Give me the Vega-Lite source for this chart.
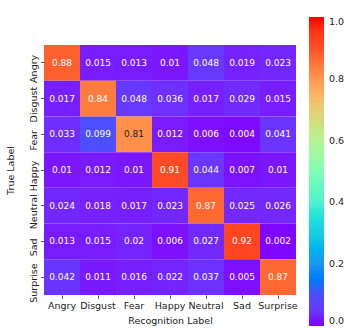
{
  "$schema": "https://vega.github.io/schema/vega-lite/v6.json",
  "autosize": "none",
  "width": 252,
  "height": 250,
  "padding": {"left": 44, "top": 45, "right": 49, "bottom": 34},
  "background": "white",
  "config": {
    "view": {"stroke": null},
    "font": "DejaVu Sans",
    "axis": {
      "domain": false,
      "grid": false,
      "ticks": true,
      "tickSize": 3.5,
      "tickColor": "#333333",
      "tickWidth": 0.8,
      "labelFont": "DejaVu Sans",
      "labelFontSize": 9.5,
      "labelColor": "#222222",
      "titleFont": "DejaVu Sans",
      "titleFontSize": 9.5,
      "titleFontWeight": "normal",
      "titleColor": "#222222",
      "labelPadding": 2
    }
  },
  "data": {
    "values": [
      {"t": "Angry", "p": "Angry", "v": 0.88}, {"t": "Angry", "p": "Disgust", "v": 0.015}, {"t": "Angry", "p": "Fear", "v": 0.013}, {"t": "Angry", "p": "Happy", "v": 0.01}, {"t": "Angry", "p": "Neutral", "v": 0.048}, {"t": "Angry", "p": "Sad", "v": 0.019}, {"t": "Angry", "p": "Surprise", "v": 0.023},
      {"t": "Disgust", "p": "Angry", "v": 0.017}, {"t": "Disgust", "p": "Disgust", "v": 0.84}, {"t": "Disgust", "p": "Fear", "v": 0.048}, {"t": "Disgust", "p": "Happy", "v": 0.036}, {"t": "Disgust", "p": "Neutral", "v": 0.017}, {"t": "Disgust", "p": "Sad", "v": 0.029}, {"t": "Disgust", "p": "Surprise", "v": 0.015},
      {"t": "Fear", "p": "Angry", "v": 0.033}, {"t": "Fear", "p": "Disgust", "v": 0.099}, {"t": "Fear", "p": "Fear", "v": 0.81}, {"t": "Fear", "p": "Happy", "v": 0.012}, {"t": "Fear", "p": "Neutral", "v": 0.006}, {"t": "Fear", "p": "Sad", "v": 0.004}, {"t": "Fear", "p": "Surprise", "v": 0.041},
      {"t": "Happy", "p": "Angry", "v": 0.01}, {"t": "Happy", "p": "Disgust", "v": 0.012}, {"t": "Happy", "p": "Fear", "v": 0.01}, {"t": "Happy", "p": "Happy", "v": 0.91}, {"t": "Happy", "p": "Neutral", "v": 0.044}, {"t": "Happy", "p": "Sad", "v": 0.007}, {"t": "Happy", "p": "Surprise", "v": 0.01},
      {"t": "Neutral", "p": "Angry", "v": 0.024}, {"t": "Neutral", "p": "Disgust", "v": 0.018}, {"t": "Neutral", "p": "Fear", "v": 0.017}, {"t": "Neutral", "p": "Happy", "v": 0.023}, {"t": "Neutral", "p": "Neutral", "v": 0.87}, {"t": "Neutral", "p": "Sad", "v": 0.025}, {"t": "Neutral", "p": "Surprise", "v": 0.026},
      {"t": "Sad", "p": "Angry", "v": 0.013}, {"t": "Sad", "p": "Disgust", "v": 0.015}, {"t": "Sad", "p": "Fear", "v": 0.02}, {"t": "Sad", "p": "Happy", "v": 0.006}, {"t": "Sad", "p": "Neutral", "v": 0.027}, {"t": "Sad", "p": "Sad", "v": 0.92}, {"t": "Sad", "p": "Surprise", "v": 0.002},
      {"t": "Surprise", "p": "Angry", "v": 0.042}, {"t": "Surprise", "p": "Disgust", "v": 0.011}, {"t": "Surprise", "p": "Fear", "v": 0.016}, {"t": "Surprise", "p": "Happy", "v": 0.022}, {"t": "Surprise", "p": "Neutral", "v": 0.037}, {"t": "Surprise", "p": "Sad", "v": 0.005}, {"t": "Surprise", "p": "Surprise", "v": 0.87}
    ]
  },
  "encoding": {
    "x": {
      "field": "p", "type": "nominal",
      "sort": ["Angry", "Disgust", "Fear", "Happy", "Neutral", "Sad", "Surprise"],
      "scale": {"paddingInner": 0, "paddingOuter": 0},
      "axis": {
        "title": "Recognition Label", "labelAngle": 0, "orient": "bottom",
        "labelOverlap": false, "labelBound": false,
        "titleX": 126, "titleY": 25, "titleBaseline": "middle", "titleAlign": "center"
      }
    },
    "y": {
      "field": "t", "type": "nominal",
      "sort": ["Angry", "Disgust", "Fear", "Happy", "Neutral", "Sad", "Surprise"],
      "scale": {"paddingInner": 0, "paddingOuter": 0},
      "axis": {
        "title": "True Label", "labelAngle": -90, "labelAlign": "center", "labelBaseline": "bottom",
        "labelOverlap": false, "labelBound": false, "labelOffset": 6,
        "titleX": -34, "titleY": 125, "titleAngle": -90, "titleBaseline": "middle", "titleAlign": "center"
      }
    }
  },
  "layer": [
    {
      "mark": {"type": "rect"},
      "encoding": {
        "color": {
          "field": "v", "type": "quantitative",
          "scale": {
            "domain": [0, 0.1, 0.2, 0.25, 0.3, 0.4, 0.5, 0.6, 0.7, 0.75, 0.8, 0.9, 1],
            "range": ["#8000ff", "#4d4ffc", "#1a96f3", "#00b4eb", "#1acee3", "#4df3ce", "#80ffb4", "#b3f396", "#e6ce74", "#ffb462", "#ff964f", "#ff4f28", "#ff0000"]
          },
          "legend": {
            "title": null, "orient": "none", "legendX": 265, "legendY": -28,
            "direction": "vertical",
            "gradientLength": 309, "gradientThickness": 15, "gradientStrokeWidth": 0,
            "values": [0, 0.2, 0.4, 0.6, 0.8, 1], "format": ".1f",
            "labelFont": "DejaVu Sans", "labelFontSize": 9.5, "labelColor": "#222222",
            "labelBaseline": "middle", "labelOffset": 5, "labelOverlap": false
          }
        }
      }
    },
    {
      "mark": {"type": "text", "font": "DejaVu Sans", "fontSize": 9},
      "encoding": {
        "text": {"field": "v", "type": "quantitative", "format": "~g"},
        "color": {
          "condition": {"test": "datum.v > 0.78 && datum.v < 0.83", "value": "#262626"},
          "value": "#ffffff"
        }
      }
    }
  ]
}
